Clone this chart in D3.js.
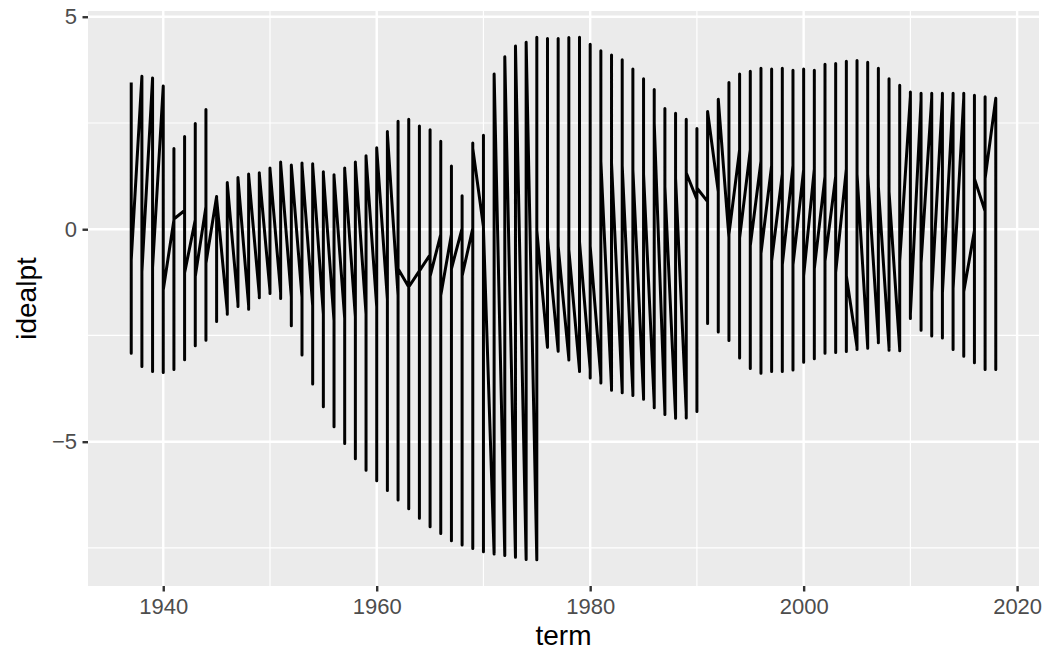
<!DOCTYPE html>
<html>
<head>
<meta charset="utf-8">
<script src="https://cdn.jsdelivr.net/npm/d3@7/dist/d3.min.js"></script>
<style>
  body { margin: 0; background: #fff; }
  text { font-family: "Liberation Sans", Arial, Helvetica, sans-serif; }
</style>
</head>
<body>
<svg width="1047" height="650"></svg>
<script>
// one entry per term; the line visits first -> max -> min -> last within a term
const terms = [
	1937, 1938, 1939, 1940, 1941, 1942, 1943, 1944, 1945, 1946,
	1947, 1948, 1949, 1950, 1951, 1952, 1953, 1954, 1955, 1956,
	1957, 1958, 1959, 1960, 1961, 1962, 1963, 1964, 1965, 1966,
	1967, 1968, 1969, 1970, 1971, 1972, 1973, 1974, 1975, 1976,
	1977, 1978, 1979, 1980, 1981, 1982, 1983, 1984, 1985, 1986,
	1987, 1988, 1989, 1990, 1991, 1992, 1993, 1994, 1995, 1996,
	1997, 1998, 1999, 2000, 2001, 2002, 2003, 2004, 2005, 2006,
	2007, 2008, 2009, 2010, 2011, 2012, 2013, 2014, 2015, 2016,
	2017, 2018
];

const idealFirst = [
	3.45, 3.60, 3.56, 3.37, 0.22, 0.44, 0.22, 0.53, 0.77, -1.93,
	-1.75, -1.80, -1.55, -1.45, -1.50, -1.60, -1.60, -1.80, -2.00, -2.15,
	-2.10, -2.06, -2.00, -1.83, -1.65, -1.56, -1.36, -0.98, -0.60, -0.12,
	-0.12, 0.02, 0.02, 0.06, -7.64, -7.68, -7.72, -7.77, -7.78, -2.78,
	-2.87, -3.05, -3.32, -3.30, -3.50, -3.73, -3.80, -3.85, -3.95, -4.10,
	-4.30, -4.40, -4.30, 0.70, 0.65, 0.88, -0.20, 1.87, 1.87, 1.60,
	1.50, 1.30, 1.50, 1.40, 1.42, 1.24, 1.24, 1.42, -2.78, -2.78,
	-2.60, -2.80, -2.83, 3.13, 3.04, 3.10, 3.10, 3.10, 3.10, -0.03,
	0.42, 3.08
];

const idealMax = [
	3.45, 3.60, 3.56, 3.37, 1.90, 2.18, 2.49, 2.82, 0.77, 1.10,
	1.22, 1.30, 1.33, 1.44, 1.58, 1.51, 1.56, 1.54, 1.35, 1.28,
	1.44, 1.58, 1.73, 1.92, 2.30, 2.54, 2.59, 2.43, 2.34, 2.07,
	1.49, 0.79, 2.03, 2.21, 3.65, 4.06, 4.31, 4.40, 4.52, 4.49,
	4.49, 4.51, 4.52, 4.35, 4.20, 4.10, 3.99, 3.77, 3.54, 3.29,
	2.84, 2.73, 2.59, 2.37, 2.77, 3.06, 3.45, 3.65, 3.72, 3.79,
	3.77, 3.79, 3.74, 3.77, 3.74, 3.88, 3.90, 3.95, 3.97, 3.93,
	3.79, 3.54, 3.39, 3.23, 3.20, 3.20, 3.20, 3.20, 3.20, 3.15,
	3.12, 3.08
];

const idealMin = [
	-2.92, -3.23, -3.35, -3.37, -3.30, -3.07, -2.74, -2.61, -2.17, -2.00,
	-1.82, -1.88, -1.61, -1.51, -1.63, -2.27, -2.96, -3.64, -4.18, -4.65,
	-5.04, -5.40, -5.67, -5.92, -6.15, -6.37, -6.58, -6.80, -7.00, -7.16,
	-7.33, -7.43, -7.51, -7.59, -7.64, -7.68, -7.72, -7.77, -7.78, -2.78,
	-2.87, -3.08, -3.35, -3.50, -3.62, -3.79, -3.85, -3.91, -4.00, -4.20,
	-4.36, -4.45, -4.44, -4.29, -2.22, -2.42, -2.62, -3.03, -3.28, -3.39,
	-3.35, -3.35, -3.31, -3.13, -3.05, -2.92, -2.90, -2.88, -2.83, -2.80,
	-2.67, -2.85, -2.86, -2.10, -2.38, -2.51, -2.56, -2.83, -2.99, -3.14,
	-3.30, -3.30
];

const idealLast = [
	-0.72, -1.00, -0.90, -1.43, 0.24, -1.03, -1.11, -0.80, 0.72, 1.08,
	1.20, 1.28, 1.30, 1.42, 1.55, 1.50, 1.50, 1.50, 1.30, 1.25,
	1.40, 1.55, 1.70, 1.90, 2.25, -0.93, -1.36, -0.98, -1.11, -1.56,
	-0.93, -1.10, 1.90, 0.00, 3.65, 4.06, 4.31, 4.40, -0.03, -0.20,
	-0.40, -0.48, -0.30, -0.40, 1.60, 1.55, 1.50, 1.40, 1.30, 2.50,
	1.00, 1.20, 1.33, 0.97, 2.77, 3.06, -0.12, -0.21, -0.39, -0.57,
	-0.75, -0.84, -0.84, -1.10, -0.93, -0.75, -1.02, -1.10, 1.30, 1.30,
	1.00, 0.88, -0.75, -2.00, -0.80, -1.50, -1.50, -1.40, -1.47, 1.19,
	1.19, 1.20
];

const xTicks = [1940, 1960, 1980, 2000, 2020];
const xMinor = [1950, 1970, 1990, 2010];
const yTicks = [-5, 0, 5];
const yMinor = [-7.5, -2.5, 2.5];

const svg = d3.select('svg');
const width = +svg.attr('width');
const height = +svg.attr('height');

const render = rows => {
	const margin = { top: 11, right: 8, bottom: 64, left: 88 };
	const innerWidth = width - margin.left - margin.right;
	const innerHeight = height - margin.top - margin.bottom;

	// ggplot style 5% padding on both scales
	const xExt = d3.extent(rows, d => d.term);
	const yExt = d3.extent(rows, d => d.idealpt);
	const xPad = (xExt[1] - xExt[0]) * 0.05;
	const yPad = (yExt[1] - yExt[0]) * 0.05;

	const xS = d3.scaleLinear()
		.domain([xExt[0] - xPad, xExt[1] + xPad])
		.range([0, innerWidth]);
	const yS = d3.scaleLinear()
		.domain([yExt[0] - yPad, yExt[1] + yPad])
		.range([innerHeight, 0]);

	const g = svg.append('g')
		.attr('transform', `translate(${margin.left},${margin.top})`);

	g.append('rect')
		.attr('width', innerWidth)
		.attr('height', innerHeight)
		.attr('fill', '#EBEBEB');

	g.selectAll('.vminor').data(xMinor).enter().append('line')
		.attr('x1', d => xS(d)).attr('x2', d => xS(d))
		.attr('y1', 0).attr('y2', innerHeight)
		.attr('stroke', '#fff').attr('stroke-width', 1.2);
	g.selectAll('.hminor').data(yMinor).enter().append('line')
		.attr('y1', d => yS(d)).attr('y2', d => yS(d))
		.attr('x1', 0).attr('x2', innerWidth)
		.attr('stroke', '#fff').attr('stroke-width', 1.2);
	g.selectAll('.vmajor').data(xTicks).enter().append('line')
		.attr('x1', d => xS(d)).attr('x2', d => xS(d))
		.attr('y1', 0).attr('y2', innerHeight)
		.attr('stroke', '#fff').attr('stroke-width', 2.4);
	g.selectAll('.hmajor').data(yTicks).enter().append('line')
		.attr('y1', d => yS(d)).attr('y2', d => yS(d))
		.attr('x1', 0).attr('x2', innerWidth)
		.attr('stroke', '#fff').attr('stroke-width', 2.4);

	const line = d3.line()
		.x(d => xS(d.term))
		.y(d => yS(d.idealpt));

	g.append('path')
		.datum(rows)
		.attr('d', line)
		.attr('fill', 'none')
		.attr('stroke', '#000')
		.attr('stroke-width', 3)
		.attr('stroke-linejoin', 'round')
		.attr('stroke-linecap', 'butt');

	const xAxis = d3.axisBottom(xS)
		.tickValues(xTicks)
		.tickFormat(d3.format('d'))
		.tickSize(5.5)
		.tickPadding(6.5);
	const xag = g.append('g')
		.attr('transform', `translate(0,${innerHeight})`)
		.call(xAxis);

	const yAxis = d3.axisLeft(yS)
		.tickValues(yTicks)
		.tickFormat(d => d < 0 ? '\u2212' + Math.abs(d) : d)
		.tickSize(5.5)
		.tickPadding(5.5);
	const yag = g.append('g').call(yAxis);

	[xag, yag].forEach(ax => {
		ax.select('.domain').remove();
		ax.selectAll('line').attr('stroke', '#333333').attr('stroke-width', 2.4);
		ax.selectAll('text')
			.attr('fill', '#4D4D4D')
			.style('font-size', '22px');
	});

	svg.append('text')
		.attr('x', margin.left + innerWidth / 2)
		.attr('y', 645)
		.attr('text-anchor', 'middle')
		.style('font-size', '28px')
		.attr('fill', '#000')
		.text('term');

	svg.append('text')
		.attr('transform', `translate(36,${margin.top + innerHeight / 2}) rotate(-90)`)
		.attr('text-anchor', 'middle')
		.style('font-size', '28px')
		.attr('fill', '#000')
		.text('idealpt');
};

const rows = [];
terms.forEach((t, i) => {
	[idealFirst[i], idealMax[i], idealMin[i], idealLast[i]].forEach(v => {
		rows.push({ term: t, idealpt: v });
	});
});

render(rows);
</script>
</body>
</html>
